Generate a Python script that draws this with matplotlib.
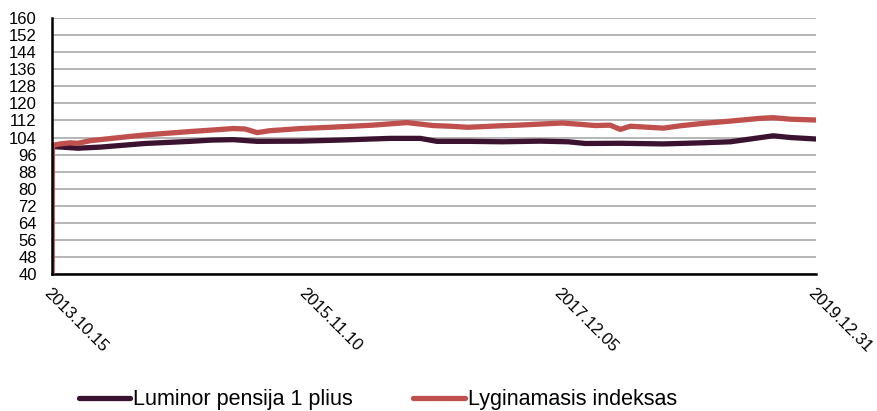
import matplotlib
matplotlib.use("Agg")
import matplotlib.pyplot as plt
import pandas as pd

# Luminor pensija 1 plius
fund_dates = ["2013-10-15", "2013-12-31", "2014-03-07", "2014-07-18", "2014-11-29",
              "2015-02-02", "2015-04-06", "2015-06-16", "2015-10-22", "2016-02-17",
              "2016-07-15", "2016-10-12", "2016-12-01", "2017-03-09", "2017-06-12",
              "2017-10-03", "2017-12-26", "2018-02-14", "2018-05-29", "2018-10-04",
              "2019-01-22", "2019-04-21", "2019-06-19", "2019-08-26", "2019-10-16",
              "2019-12-31"]
fund_vals = [99.8, 99.0, 99.5, 101.2, 102.2,
             102.8, 103.0, 102.2, 102.3, 102.8,
             103.6, 103.6, 102.2, 102.2, 102.0,
             102.3, 102.0, 101.2, 101.3, 101.0,
             101.5, 102.0, 103.3, 104.8, 104.0,
             103.3]

# Lyginamasis indeksas
index_dates = ["2013-10-15", "2013-10-16", "2013-11-08", "2013-12-07", "2013-12-31",
               "2014-02-05", "2014-04-05", "2014-06-04", "2014-07-18", "2014-09-22",
               "2014-11-29", "2015-02-02", "2015-04-06", "2015-05-11", "2015-06-16",
               "2015-07-24", "2015-10-22", "2016-01-19", "2016-05-25", "2016-09-03",
               "2016-11-20", "2017-01-09", "2017-03-03", "2017-06-07", "2017-07-30",
               "2017-12-08", "2018-01-30", "2018-03-16", "2018-04-29", "2018-05-29",
               "2018-06-28", "2018-10-04", "2018-11-23", "2019-01-22", "2019-04-21",
               "2019-07-19", "2019-08-26", "2019-10-16", "2019-12-31"]
index_vals = [0.0, 100.3, 101.0, 101.5, 101.3,
              102.5, 103.5, 104.5, 105.2, 106.0,
              106.8, 107.5, 108.2, 108.0, 106.3,
              107.2, 108.2, 108.8, 109.8, 111.0,
              109.6, 109.3, 108.8, 109.5, 109.8,
              110.8, 110.2, 109.6, 109.8, 107.8,
              109.3, 108.4, 109.5, 110.5, 111.7,
              113.0, 113.3, 112.6, 112.2]

tick_dates = ["2013-10-15", "2015-11-10", "2017-12-05", "2019-12-31"]
tick_labels = ["2013.10.15", "2015.11.10", "2017.12.05", "2019.12.31"]

plt.rcParams['font.family'] = ['Liberation Sans', 'DejaVu Sans']

fig = plt.figure(figsize=(8.77, 4.11), dpi=100)
ax = fig.add_axes([0.0593, 0.3333, 0.8711, 0.6227])

ax.plot(pd.to_datetime(fund_dates), fund_vals, color='#3b1331', lw=3.8,
        label="Luminor pensija 1 plius", zorder=3, solid_capstyle='round')
ax.plot(pd.to_datetime(index_dates), index_vals, color='#c0504d', lw=3.8,
        label="Lyginamasis indeksas", zorder=3, solid_capstyle='round')

ax.set_ylim(40, 160)
ax.set_yticks(range(40, 161, 8))
ax.set_xlim(pd.Timestamp("2013-10-15"), pd.Timestamp("2019-12-31"))
ax.set_xticks(pd.to_datetime(tick_dates))
ax.set_xticklabels(tick_labels, rotation=-45, ha='left', va='top',
                   rotation_mode='anchor')

ax.grid(axis='y', color='#b0b0b0', lw=1.3)
ax.set_axisbelow(True)
for s in ['top', 'right']:
    ax.spines[s].set_visible(False)
ax.spines['left'].set_linewidth(1.8)
ax.spines['bottom'].set_linewidth(1.8)
ax.spines['left'].set_zorder(4)
ax.tick_params(axis='both', length=0, labelsize=12)
ax.tick_params(axis='x', pad=8)
ax.tick_params(axis='y', pad=11)

fig.legend(loc='center', bbox_to_anchor=(0.431, 0.027), ncol=2, frameon=False,
           fontsize=15.5, handlelength=2.4, handletextpad=0.15, columnspacing=2.8)

fig.savefig("out.png", dpi=100)
